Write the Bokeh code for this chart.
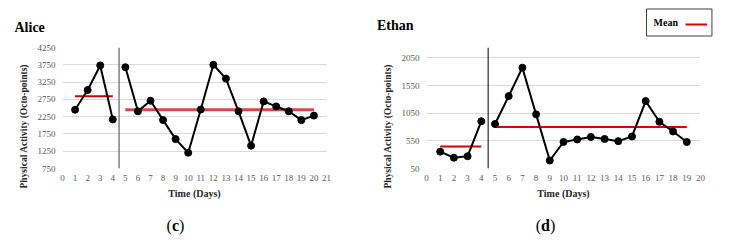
import numpy as np
from bokeh.plotting import figure
from bokeh.models import Span, Label, Legend, LegendItem, FixedTicker, Range1d, Title
from bokeh.layouts import row, column
from bokeh.embed import file_html
from bokeh.resources import INLINE

# ---------------- data ----------------
alice_days_a = [1, 2, 3, 4]
alice_pa_a = [2450, 3020, 3730, 2170]
alice_days_b = [5, 6, 7, 8, 9, 10, 11, 12, 13, 14, 15, 16, 17, 18, 19, 20]
alice_pa_b = [3680, 2405, 2710, 2150, 1600, 1205, 2455, 3750, 3350, 2405,
              1410, 2690, 2545, 2405, 2150, 2280]
alice_means = [2842, 2450]
alice_xticks = list(range(0, 22))
alice_yticks = [750, 1250, 1750, 2250, 2750, 3250, 3750, 4250]

ethan_days_a = [1, 2, 3, 4]
ethan_pa_a = [355, 245, 272, 905]
ethan_days_b = [5, 6, 7, 8, 9, 10, 11, 12, 13, 14, 15, 16, 17, 18, 19]
ethan_pa_b = [855, 1360, 1875, 1030, 195, 530, 575, 620, 585, 545,
              630, 1270, 895, 720, 530]
ethan_means = [447, 800]
ethan_xticks = list(range(0, 21))
ethan_yticks = [50, 550, 1050, 1550, 2050]

phase_change = 4.5
SERIF = "Liberation Serif"


def style_axes(p, xticks, yticks):
    for ax in p.axis:
        ax.axis_line_color = None
        ax.major_tick_line_color = None
        ax.minor_tick_line_color = None
        ax.major_tick_out = 0
        ax.major_tick_in = 0
        ax.major_label_text_font = SERIF
        ax.major_label_text_font_size = "9px"
        ax.major_label_text_color = "#595959"
    p.xaxis.ticker = FixedTicker(ticks=xticks)
    p.yaxis.ticker = FixedTicker(ticks=yticks)
    p.xaxis.major_label_standoff = 6
    p.yaxis.major_label_standoff = 7
    p.xaxis.axis_label = "Time (Days)"
    p.xaxis.axis_label_text_font = SERIF
    p.xaxis.axis_label_text_font_style = "bold"
    p.xaxis.axis_label_text_font_size = "10px"
    p.xaxis.axis_label_text_color = "#262626"
    p.xaxis.axis_label_standoff = 4
    p.xgrid.visible = False
    p.ygrid.grid_line_color = "#d9d9d9"
    p.ygrid.grid_line_width = 1
    p.outline_line_color = None
    p.add_layout(Title(text="Physical Activity (Octo-points)", align="left",
                       offset=-20, standoff=12,
                       text_font=SERIF, text_font_style="bold",
                       text_font_size="9.5px", text_color="#262626"), "left")


def bare_band(height):
    b = figure(width=730, height=height, x_range=Range1d(0, 1), y_range=Range1d(0, 1),
               output_backend="svg", toolbar_location=None,
               x_axis_location=None, y_axis_location=None, min_border=0)
    b.grid.visible = False
    b.outline_line_color = None
    return b


def screen_label(b, x, y, text, size, style="normal", align="left"):
    b.add_layout(Label(x=x, y=y, x_units="screen", y_units="screen", text=text,
                       text_font=SERIF, text_font_style=style, text_font_size=size,
                       text_align=align, text_baseline="middle", text_color="black"))


# ---------------- top band (panel names + legend) ----------------
band = bare_band(40)
screen_label(band, 14, 13.5, "Alice", "14px", "bold")
screen_label(band, 376.5, 15, "Ethan", "14px", "bold")
band.add_layout(Label(x=646, y=18, x_units="screen", y_units="screen", text="Mean",
                      text_font=SERIF, text_font_style="bold", text_font_size="10px",
                      text_align="left", text_baseline="middle", text_color="black",
                      border_line_color="#404040", border_line_width=1,
                      background_fill_color=None,
                      padding=dict(left=7, right=34, top=8, bottom=8)))
legend_glyph = band.line(x=[0, 1], y=[-5, -5], line_color="#e00000", line_width=2)
band.add_layout(Legend(items=[LegendItem(label="Mean", renderers=[legend_glyph])],
                       location=(685, 11), orientation="horizontal", padding=0, margin=0,
                       spacing=0, glyph_width=22, glyph_height=10, label_width=0,
                       label_standoff=0, label_text_alpha=0.0, label_text_font_size="6px",
                       border_line_color=None, background_fill_alpha=0.0))

# ---------------- bottom band (sub-figure letters) ----------------
foot = bare_band(38)
for cx, letter, half in [(175, "c", 3.6), (545, "d", 4.5)]:
    screen_label(foot, cx - half, 19, "(", "16px", "normal", "right")
    screen_label(foot, cx, 19, letter, "16px", "bold", "center")
    screen_label(foot, cx + half, 19, ")", "16px", "normal", "left")

# ---------------- Alice ----------------
p1 = figure(width=368, height=166, x_range=Range1d(0, 21), y_range=Range1d(750, 4250),
            output_backend="svg", toolbar_location=None,
            min_border_left=62, min_border_right=42, min_border_top=7, min_border_bottom=36)
style_axes(p1, alice_xticks, alice_yticks)
p1.add_layout(Span(location=phase_change, dimension="height", line_color="#7f7f7f", line_width=1.5))
p1.line([alice_days_a[0], alice_days_a[-1]], [alice_means[0]] * 2, line_color="#cc0000", line_width=2)
p1.line([alice_days_b[0], alice_days_b[-1]], [alice_means[1]] * 2, line_color="#d94848", line_width=3)
p1.line(alice_days_a, alice_pa_a, line_color="black", line_width=2)
p1.line(alice_days_b, alice_pa_b, line_color="black", line_width=2)
p1.scatter(alice_days_a, alice_pa_a, size=7, color="black")
p1.scatter(alice_days_b, alice_pa_b, size=7, color="black")

# ---------------- Ethan ----------------
p2 = figure(width=362, height=166, x_range=Range1d(0, 20), y_range=Range1d(50, 2240),
            output_backend="svg", toolbar_location=None,
            min_border_left=58, min_border_right=30, min_border_top=4, min_border_bottom=38)
style_axes(p2, ethan_xticks, ethan_yticks)
p2.add_layout(Span(location=phase_change, dimension="height", line_color="black", line_width=1))
p2.line([ethan_days_a[0], ethan_days_a[-1]], [ethan_means[0]] * 2, line_color="#e00000", line_width=2)
p2.line([ethan_days_b[0], ethan_days_b[-1]], [ethan_means[1]] * 2, line_color="#e00000", line_width=2)
p2.line(ethan_days_a, ethan_pa_a, line_color="black", line_width=2)
p2.line(ethan_days_b, ethan_pa_b, line_color="black", line_width=2)
p2.scatter(ethan_days_a, ethan_pa_a, size=7, color="black")
p2.scatter(ethan_days_b, ethan_pa_b, size=7, color="black")

layout = column(band, row(p1, p2), foot)
open("out.html", "w").write(file_html(layout, INLINE))
